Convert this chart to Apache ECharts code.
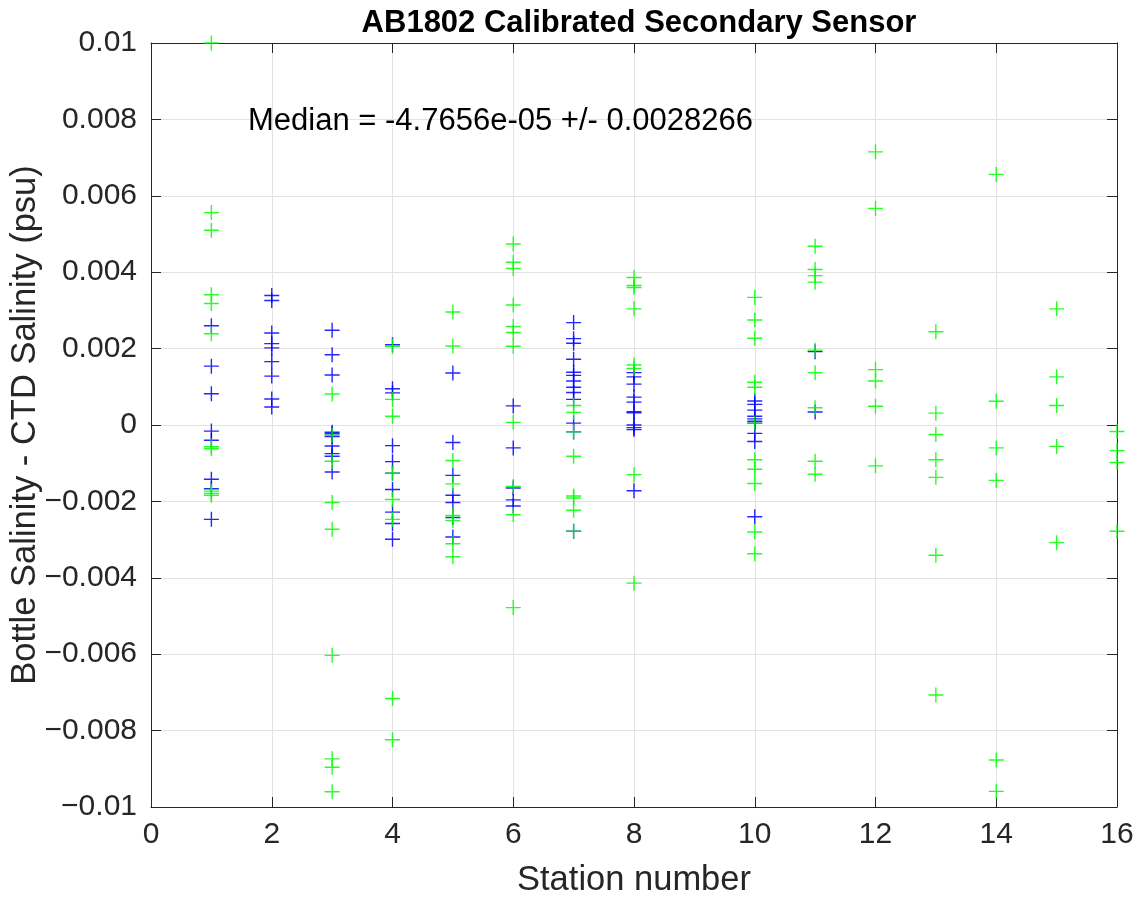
<!DOCTYPE html>
<html>
<head>
<meta charset="utf-8">
<script src="https://cdn.jsdelivr.net/npm/echarts@6/dist/echarts.min.js"></script>
<style>
html,body{margin:0;padding:0;background:#fff;}
#chart{width:1142px;height:898px;}
</style>
</head>
<body>
<div id="chart"></div>
<script>
// ---- Data ----
const titleText = 'AB1802 Calibrated Secondary Sensor';
const xAxisName = 'Station number';
const yAxisName = 'Bottle Salinity - CTD Salinity (psu)';
const medianText = 'Median = -4.7656e-05 +/- 0.0028266';
const stations = [1, 2, 3, 4, 5, 6, 7, 8, 9, 10, 11, 12, 13, 14, 15, 16];
const xTicks = [0, 2, 4, 6, 8, 10, 12, 14, 16];
const yTicks = [-0.01, -0.008, -0.006, -0.004, -0.002, 0, 0.002, 0.004, 0.006, 0.008, 0.01];

// blue (primary) residuals per station
const blueValues = [
  [0.00260, 0.00154, 0.00082, -0.00016, -0.00040, -0.00142, -0.00167, -0.00247],
  [0.00339, 0.00326, 0.00241, 0.00213, 0.00202, 0.00166, 0.00128, 0.00068, 0.00047],
  [0.00248, 0.00184, 0.00131, -0.00019, -0.00023, -0.00030, -0.00055, -0.00075, -0.00082, -0.00123],
  [0.00210, 0.00095, 0.00084, -0.00054, -0.00096, -0.00126, -0.00169, -0.00228, -0.00258, -0.00299],
  [0.00136, -0.00046, -0.00132, -0.00184, -0.00203, -0.00242, -0.00293],
  [0.00050, -0.00060, -0.00165, -0.00196, -0.00212],
  [0.00268, 0.00226, 0.00214, 0.00172, 0.00138, 0.00130, 0.00115, 0.00099, 0.00085, 0.00067, 0.00005, -0.00018, -0.00278],
  [0.00137, 0.00126, 0.00107, 0.00073, 0.00060, 0.00035, 0.00032, 0.00000, -0.00007, -0.00012, -0.00172],
  [],
  [0.00063, 0.00054, 0.00039, 0.00023, 0.00016, 0.00010, 0.00005, -0.00022, -0.00043, -0.00240],
  [0.00192, 0.00034],
  [], [], [], [], []
];

// green (secondary) residuals per station
const greenValues = [
  [0.0100, 0.00556, 0.00510, 0.00341, 0.00318, 0.00239, -0.00057, -0.00062, -0.00173, -0.00179, -0.00184],
  [],
  [0.00081, -0.00027, -0.00095, -0.00203, -0.00273, -0.00603, -0.00874, -0.00896, -0.00960],
  [0.00206, 0.00067, 0.00023, -0.00126, -0.00195, -0.00247, -0.00716, -0.00824],
  [0.00296, 0.00207, -0.00093, -0.00154, -0.00237, -0.00250, -0.00311, -0.00345],
  [0.00474, 0.00426, 0.00410, 0.00314, 0.00258, 0.00242, 0.00206, 0.00007, -0.00161, -0.00235, -0.00478],
  [0.00051, 0.00033, -0.00018, -0.00082, -0.00186, -0.00191, -0.00223, -0.00278],
  [0.00386, 0.00365, 0.00360, 0.00304, 0.00157, 0.00148, -0.00130, -0.00414],
  [],
  [0.00334, 0.00275, 0.00227, 0.00112, 0.00099, 0.00005, -0.00091, -0.00116, -0.00153, -0.00280, -0.00337],
  [0.00468, 0.00407, 0.00391, 0.00374, 0.00196, 0.00137, 0.00045, -0.00095, -0.00129],
  [0.00715, 0.00567, 0.00145, 0.00115, 0.00049, -0.00107],
  [0.00244, 0.00031, -0.00025, -0.00091, -0.00137, -0.00341, -0.00707],
  [0.00656, 0.00062, -0.00060, -0.00145, -0.00877, -0.00959],
  [0.00304, 0.00126, 0.00051, -0.00056, -0.00308],
  [-0.00017, -0.00067, -0.00098, -0.00278]
];

// ---- Build chart ----
function toPairs(byStation) {
  const out = [];
  byStation.forEach((vals, i) => vals.forEach(v => out.push([stations[i], v])));
  return out;
}

const FONT = '"Liberation Sans", Arial, Helvetica, sans-serif';
const AXIS_COLOR = '#262626';
const plusPath = 'path://M5,0 L5,10 M0,5 L10,5';

function fmtY(v) {
  const r = Math.round(v * 1000) / 1000;
  if (r === 0) return '0';
  return r < 0 ? '\u2212' + String(-r) : String(r);
}

const xMin = xTicks[0], xMax = xTicks[xTicks.length - 1], xInt = xTicks[1] - xTicks[0];
const yMin = yTicks[0], yMax = yTicks[yTicks.length - 1], yInt = 0.002;

const chart = echarts.init(document.getElementById('chart'), null, {renderer: 'canvas'});

const option = {
  backgroundColor: '#ffffff',
  animation: false,
  title: {
    text: titleText,
    left: 634,
    top: 3,
    textAlign: 'center',
    textStyle: {fontFamily: FONT, fontWeight: 'bold', fontSize: 31, color: '#000'}
  },
  grid: {left: 151, right: 25, top: 43, bottom: 91, containLabel: false, outerBoundsMode: 'none'},
  xAxis: [{
    type: 'value', min: xMin, max: xMax, interval: xInt, position: 'bottom',
    name: xAxisName, nameLocation: 'middle', nameGap: 56, nameMoveOverlap: false,
    nameTextStyle: {fontFamily: FONT, fontSize: 34.5, color: AXIS_COLOR},
    axisLine: {show: true, onZero: false, lineStyle: {color: AXIS_COLOR, width: 1}},
    axisTick: {show: true, inside: true, length: 10, lineStyle: {color: AXIS_COLOR}},
    axisLabel: {fontFamily: FONT, fontSize: 30, color: AXIS_COLOR, margin: 13},
    splitLine: {show: true, lineStyle: {color: '#e3e3e3', width: 1}}
  }, {
    type: 'value', min: xMin, max: xMax, interval: xInt, position: 'top',
    axisLine: {show: true, onZero: false, lineStyle: {color: AXIS_COLOR, width: 1}},
    axisTick: {show: true, inside: true, length: 10, lineStyle: {color: AXIS_COLOR}},
    axisLabel: {show: false}, splitLine: {show: false}
  }],
  yAxis: [{
    type: 'value', min: yMin, max: yMax, interval: yInt, position: 'left',
    name: yAxisName, nameLocation: 'middle', nameGap: 108, nameRotate: 90, nameMoveOverlap: false,
    nameTextStyle: {fontFamily: FONT, fontSize: 34.5, color: AXIS_COLOR},
    axisLine: {show: true, onZero: false, lineStyle: {color: AXIS_COLOR, width: 1}},
    axisTick: {show: true, inside: true, length: 10, lineStyle: {color: AXIS_COLOR}},
    axisLabel: {fontFamily: FONT, fontSize: 30, color: AXIS_COLOR, margin: 14, formatter: fmtY},
    splitLine: {show: true, lineStyle: {color: '#e3e3e3', width: 1}}
  }, {
    type: 'value', min: yMin, max: yMax, interval: yInt, position: 'right',
    axisLine: {show: true, onZero: false, lineStyle: {color: AXIS_COLOR, width: 1}},
    axisTick: {show: true, inside: true, length: 10, lineStyle: {color: AXIS_COLOR}},
    axisLabel: {show: false}, splitLine: {show: false}
  }],
  series: [{
    name: 'Primary', type: 'scatter', xAxisIndex: 0, yAxisIndex: 0,
    data: toPairs(blueValues), symbol: plusPath, symbolSize: 15, clip: false,
    itemStyle: {color: 'rgba(0,0,0,0)', borderColor: '#0000ff', borderWidth: 1.4, opacity: 0.85}
  }, {
    name: 'Secondary', type: 'scatter', xAxisIndex: 0, yAxisIndex: 0,
    data: toPairs(greenValues), symbol: plusPath, symbolSize: 15, clip: false,
    itemStyle: {color: 'rgba(0,0,0,0)', borderColor: '#00ff00', borderWidth: 1.4, opacity: 0.85}
  }],
  graphic: [{
    type: 'text', x: 248, y: 121, z: 100,
    style: {text: medianText, font: '31px ' + FONT, fill: '#000', verticalAlign: 'middle', textVerticalAlign: 'middle'}
  }]
};
chart.setOption(option);
</script>
</body>
</html>
